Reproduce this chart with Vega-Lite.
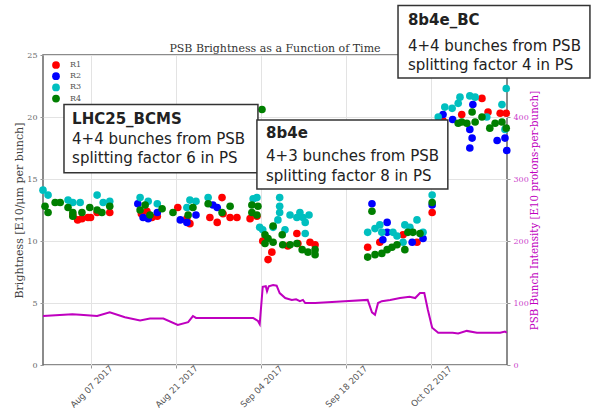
{
  "$schema": "https://vega.github.io/schema/vega-lite/v6.json",
  "width": 464,
  "height": 310,
  "autosize": "none",
  "padding": {"left": 43, "top": 55, "right": 97, "bottom": 43},
  "background": "white",
  "config": {
    "view": {"stroke": "#666", "strokeWidth": 1.5},
    "axis": {"domain": false}
  },
  "title": {"text": "PSB Brightness as a Function of Time", "font": "DejaVu Serif", "fontSize": 11, "fontWeight": "normal", "color": "#333", "offset": 0, "dy": 49},
  "datasets": {
    "pts": [
      {"d": "2017-08-04T00:00", "r": "R1", "b": 12.1},
      {"d": "2017-08-04T19:00", "r": "R1", "b": 11.7},
      {"d": "2017-08-05T12:00", "r": "R1", "b": 11.8},
      {"d": "2017-08-06T12:00", "r": "R1", "b": 11.9},
      {"d": "2017-08-06T22:00", "r": "R1", "b": 11.9},
      {"d": "2017-08-08T00:00", "r": "R1", "b": 12.3},
      {"d": "2017-08-10T02:00", "r": "R1", "b": 12.3},
      {"d": "2017-08-15T07:00", "r": "R1", "b": 12.2},
      {"d": "2017-08-16T05:00", "r": "R1", "b": 12.4},
      {"d": "2017-08-17T01:00", "r": "R1", "b": 11.9},
      {"d": "2017-08-17T22:00", "r": "R1", "b": 12.0},
      {"d": "2017-08-21T07:00", "r": "R1", "b": 12.7},
      {"d": "2017-08-22T19:00", "r": "R1", "b": 11.8},
      {"d": "2017-08-23T07:00", "r": "R1", "b": 11.4},
      {"d": "2017-08-26T14:00", "r": "R1", "b": 11.9},
      {"d": "2017-08-27T19:00", "r": "R1", "b": 11.5},
      {"d": "2017-08-28T14:00", "r": "R1", "b": 13.5},
      {"d": "2017-08-28T18:00", "r": "R1", "b": 12.2},
      {"d": "2017-08-29T22:00", "r": "R1", "b": 11.9},
      {"d": "2017-08-31T01:00", "r": "R1", "b": 11.9},
      {"d": "2017-09-02T05:00", "r": "R1", "b": 11.8},
      {"d": "2017-09-03T08:00", "r": "R1", "b": 12.0},
      {"d": "2017-09-04T07:00", "r": "R1", "b": 10.0},
      {"d": "2017-09-05T04:00", "r": "R1", "b": 8.5},
      {"d": "2017-09-05T19:00", "r": "R1", "b": 9.1},
      {"d": "2017-09-08T10:00", "r": "R1", "b": 9.6},
      {"d": "2017-09-09T22:00", "r": "R1", "b": 10.6},
      {"d": "2017-09-10T02:00", "r": "R1", "b": 9.8},
      {"d": "2017-09-12T02:00", "r": "R1", "b": 9.9},
      {"d": "2017-09-12T22:00", "r": "R1", "b": 9.7},
      {"d": "2017-09-21T14:00", "r": "R1", "b": 9.5},
      {"d": "2017-09-23T14:00", "r": "R1", "b": 9.9},
      {"d": "2017-09-27T10:00", "r": "R1", "b": 10.5},
      {"d": "2017-09-29T17:00", "r": "R1", "b": 9.9},
      {"d": "2017-10-02T05:00", "r": "R1", "b": 12.3},
      {"d": "2017-10-04T00:00", "r": "R1", "b": 19.7},
      {"d": "2017-10-07T02:00", "r": "R1", "b": 20.2},
      {"d": "2017-10-10T10:00", "r": "R1", "b": 21.5},
      {"d": "2017-10-11T10:00", "r": "R1", "b": 20.4},
      {"d": "2017-10-13T10:00", "r": "R1", "b": 20.3},
      {"d": "2017-10-14T10:00", "r": "R1", "b": 20.3},
      {"d": "2017-08-14T17:00", "r": "R2", "b": 13.0},
      {"d": "2017-08-15T14:00", "r": "R2", "b": 11.9},
      {"d": "2017-08-16T10:00", "r": "R2", "b": 11.8},
      {"d": "2017-08-17T22:00", "r": "R2", "b": 12.3},
      {"d": "2017-08-21T17:00", "r": "R2", "b": 11.7},
      {"d": "2017-08-22T19:00", "r": "R2", "b": 11.5},
      {"d": "2017-08-24T07:00", "r": "R2", "b": 12.1},
      {"d": "2017-08-27T02:00", "r": "R2", "b": 12.9},
      {"d": "2017-08-27T19:00", "r": "R2", "b": 12.7},
      {"d": "2017-09-22T07:00", "r": "R2", "b": 13.0},
      {"d": "2017-09-24T02:00", "r": "R2", "b": 10.1},
      {"d": "2017-09-24T19:00", "r": "R2", "b": 11.5},
      {"d": "2017-09-24T19:00", "r": "R2", "b": 10.7},
      {"d": "2017-09-28T22:00", "r": "R2", "b": 9.9},
      {"d": "2017-09-30T17:00", "r": "R2", "b": 10.2},
      {"d": "2017-10-02T05:00", "r": "R2", "b": 12.9},
      {"d": "2017-10-03T05:00", "r": "R2", "b": 18.5},
      {"d": "2017-10-04T00:00", "r": "R2", "b": 20.2},
      {"d": "2017-10-05T14:00", "r": "R2", "b": 19.8},
      {"d": "2017-10-08T10:00", "r": "R2", "b": 19.0},
      {"d": "2017-10-08T10:00", "r": "R2", "b": 17.5},
      {"d": "2017-10-08T19:00", "r": "R2", "b": 18.3},
      {"d": "2017-10-08T22:00", "r": "R2", "b": 21.0},
      {"d": "2017-10-12T22:00", "r": "R2", "b": 18.1},
      {"d": "2017-10-14T05:00", "r": "R2", "b": 18.3},
      {"d": "2017-10-14T12:00", "r": "R2", "b": 17.3},
      {"d": "2017-07-30T02:00", "r": "R3", "b": 14.1},
      {"d": "2017-07-30T22:00", "r": "R3", "b": 13.7},
      {"d": "2017-08-03T05:00", "r": "R3", "b": 13.3},
      {"d": "2017-08-04T00:00", "r": "R3", "b": 13.1},
      {"d": "2017-08-05T05:00", "r": "R3", "b": 13.1},
      {"d": "2017-08-08T00:00", "r": "R3", "b": 13.7},
      {"d": "2017-08-09T00:00", "r": "R3", "b": 13.1},
      {"d": "2017-08-10T02:00", "r": "R3", "b": 13.2},
      {"d": "2017-08-15T02:00", "r": "R3", "b": 13.5},
      {"d": "2017-08-16T10:00", "r": "R3", "b": 13.2},
      {"d": "2017-08-17T22:00", "r": "R3", "b": 13.0},
      {"d": "2017-08-22T19:00", "r": "R3", "b": 12.7},
      {"d": "2017-08-23T07:00", "r": "R3", "b": 13.3},
      {"d": "2017-08-24T07:00", "r": "R3", "b": 13.2},
      {"d": "2017-08-26T07:00", "r": "R3", "b": 13.5},
      {"d": "2017-09-02T17:00", "r": "R3", "b": 13.4},
      {"d": "2017-09-03T08:00", "r": "R3", "b": 13.5},
      {"d": "2017-09-03T19:00", "r": "R3", "b": 11.1},
      {"d": "2017-09-04T07:00", "r": "R3", "b": 10.9},
      {"d": "2017-09-06T00:00", "r": "R3", "b": 11.1},
      {"d": "2017-09-06T19:00", "r": "R3", "b": 11.7},
      {"d": "2017-09-07T02:00", "r": "R3", "b": 13.5},
      {"d": "2017-09-07T02:00", "r": "R3", "b": 12.8},
      {"d": "2017-09-07T02:00", "r": "R3", "b": 12.3},
      {"d": "2017-09-07T23:00", "r": "R3", "b": 10.9},
      {"d": "2017-09-08T19:00", "r": "R3", "b": 12.1},
      {"d": "2017-09-09T22:00", "r": "R3", "b": 11.9},
      {"d": "2017-09-10T10:00", "r": "R3", "b": 12.3},
      {"d": "2017-09-10T22:00", "r": "R3", "b": 11.9},
      {"d": "2017-09-11T07:00", "r": "R3", "b": 11.5},
      {"d": "2017-09-11T07:00", "r": "R3", "b": 10.6},
      {"d": "2017-09-11T22:00", "r": "R3", "b": 12.1},
      {"d": "2017-09-21T14:00", "r": "R3", "b": 10.7},
      {"d": "2017-09-22T19:00", "r": "R3", "b": 11.0},
      {"d": "2017-09-23T14:00", "r": "R3", "b": 11.3},
      {"d": "2017-09-23T22:00", "r": "R3", "b": 10.7},
      {"d": "2017-09-25T18:00", "r": "R3", "b": 10.7},
      {"d": "2017-09-26T10:00", "r": "R3", "b": 10.4},
      {"d": "2017-09-27T10:00", "r": "R3", "b": 9.9},
      {"d": "2017-09-27T17:00", "r": "R3", "b": 11.3},
      {"d": "2017-09-28T13:00", "r": "R3", "b": 11.1},
      {"d": "2017-09-29T17:00", "r": "R3", "b": 11.7},
      {"d": "2017-09-30T17:00", "r": "R3", "b": 10.7},
      {"d": "2017-10-02T05:00", "r": "R3", "b": 13.7},
      {"d": "2017-10-03T05:00", "r": "R3", "b": 20.0},
      {"d": "2017-10-04T07:00", "r": "R3", "b": 20.8},
      {"d": "2017-10-05T12:00", "r": "R3", "b": 20.7},
      {"d": "2017-10-06T12:00", "r": "R3", "b": 21.1},
      {"d": "2017-10-06T19:00", "r": "R3", "b": 21.6},
      {"d": "2017-10-08T10:00", "r": "R3", "b": 21.7},
      {"d": "2017-10-09T07:00", "r": "R3", "b": 21.6},
      {"d": "2017-10-11T05:00", "r": "R3", "b": 20.0},
      {"d": "2017-10-13T17:00", "r": "R3", "b": 21.0},
      {"d": "2017-10-14T05:00", "r": "R3", "b": 19.0},
      {"d": "2017-10-14T10:00", "r": "R3", "b": 22.3},
      {"d": "2017-07-30T10:00", "r": "R4", "b": 12.8},
      {"d": "2017-07-30T22:00", "r": "R4", "b": 12.3},
      {"d": "2017-08-01T02:00", "r": "R4", "b": 13.1},
      {"d": "2017-08-01T22:00", "r": "R4", "b": 13.1},
      {"d": "2017-08-03T05:00", "r": "R4", "b": 12.7},
      {"d": "2017-08-04T00:00", "r": "R4", "b": 12.3},
      {"d": "2017-08-04T00:00", "r": "R4", "b": 12.0},
      {"d": "2017-08-05T12:00", "r": "R4", "b": 12.3},
      {"d": "2017-08-06T19:00", "r": "R4", "b": 12.7},
      {"d": "2017-08-08T00:00", "r": "R4", "b": 12.5},
      {"d": "2017-08-08T19:00", "r": "R4", "b": 12.3},
      {"d": "2017-08-10T02:00", "r": "R4", "b": 12.8},
      {"d": "2017-08-15T02:00", "r": "R4", "b": 12.5},
      {"d": "2017-08-15T22:00", "r": "R4", "b": 12.9},
      {"d": "2017-08-16T17:00", "r": "R4", "b": 12.1},
      {"d": "2017-08-18T17:00", "r": "R4", "b": 12.6},
      {"d": "2017-08-20T12:00", "r": "R4", "b": 12.3},
      {"d": "2017-08-23T00:00", "r": "R4", "b": 12.1},
      {"d": "2017-08-23T19:00", "r": "R4", "b": 12.7},
      {"d": "2017-08-26T07:00", "r": "R4", "b": 13.0},
      {"d": "2017-08-28T14:00", "r": "R4", "b": 12.3},
      {"d": "2017-08-29T22:00", "r": "R4", "b": 12.8},
      {"d": "2017-09-02T12:00", "r": "R4", "b": 12.9},
      {"d": "2017-09-02T12:00", "r": "R4", "b": 12.3},
      {"d": "2017-09-03T08:00", "r": "R4", "b": 12.1},
      {"d": "2017-09-03T12:00", "r": "R4", "b": 12.8},
      {"d": "2017-09-04T04:00", "r": "R4", "b": 20.6},
      {"d": "2017-09-04T16:00", "r": "R4", "b": 10.5},
      {"d": "2017-09-04T16:00", "r": "R4", "b": 9.8},
      {"d": "2017-09-05T04:00", "r": "R4", "b": 10.2},
      {"d": "2017-09-06T00:00", "r": "R4", "b": 9.9},
      {"d": "2017-09-06T00:00", "r": "R4", "b": 11.2},
      {"d": "2017-09-07T12:00", "r": "R4", "b": 10.5},
      {"d": "2017-09-07T14:00", "r": "R4", "b": 9.7},
      {"d": "2017-09-08T19:00", "r": "R4", "b": 9.7},
      {"d": "2017-09-09T22:00", "r": "R4", "b": 9.8},
      {"d": "2017-09-10T19:00", "r": "R4", "b": 9.3},
      {"d": "2017-09-11T18:00", "r": "R4", "b": 9.1},
      {"d": "2017-09-12T22:00", "r": "R4", "b": 9.3},
      {"d": "2017-09-12T22:00", "r": "R4", "b": 8.9},
      {"d": "2017-09-21T14:00", "r": "R4", "b": 8.7},
      {"d": "2017-09-22T07:00", "r": "R4", "b": 12.4},
      {"d": "2017-09-22T19:00", "r": "R4", "b": 8.9},
      {"d": "2017-09-23T22:00", "r": "R4", "b": 9.0},
      {"d": "2017-09-24T19:00", "r": "R4", "b": 9.3},
      {"d": "2017-09-25T14:00", "r": "R4", "b": 9.5},
      {"d": "2017-09-26T10:00", "r": "R4", "b": 9.7},
      {"d": "2017-09-27T17:00", "r": "R4", "b": 9.3},
      {"d": "2017-09-28T05:00", "r": "R4", "b": 10.7},
      {"d": "2017-09-29T01:00", "r": "R4", "b": 10.7},
      {"d": "2017-09-30T05:00", "r": "R4", "b": 10.6},
      {"d": "2017-10-02T05:00", "r": "R4", "b": 13.1},
      {"d": "2017-10-06T12:00", "r": "R4", "b": 19.5},
      {"d": "2017-10-07T02:00", "r": "R4", "b": 19.6},
      {"d": "2017-10-07T22:00", "r": "R4", "b": 19.5},
      {"d": "2017-10-08T19:00", "r": "R4", "b": 20.4},
      {"d": "2017-10-09T07:00", "r": "R4", "b": 19.6},
      {"d": "2017-10-10T10:00", "r": "R4", "b": 20.0},
      {"d": "2017-10-11T17:00", "r": "R4", "b": 19.1},
      {"d": "2017-10-12T14:00", "r": "R4", "b": 19.5},
      {"d": "2017-10-13T17:00", "r": "R4", "b": 19.6},
      {"d": "2017-10-14T10:00", "r": "R4", "b": 19.1}
    ],
    "intensity": [
      {"d": "2017-07-30T02:00", "v": 79},
      {"d": "2017-08-03T22:00", "v": 82},
      {"d": "2017-08-05T05:00", "v": 81},
      {"d": "2017-08-08T00:00", "v": 79},
      {"d": "2017-08-10T02:00", "v": 85},
      {"d": "2017-08-12T14:00", "v": 77},
      {"d": "2017-08-15T02:00", "v": 72},
      {"d": "2017-08-16T17:00", "v": 75},
      {"d": "2017-08-18T22:00", "v": 75},
      {"d": "2017-08-21T07:00", "v": 64.5},
      {"d": "2017-08-23T00:00", "v": 69},
      {"d": "2017-08-23T19:00", "v": 79},
      {"d": "2017-08-24T07:00", "v": 76},
      {"d": "2017-09-02T17:00", "v": 76},
      {"d": "2017-09-03T12:00", "v": 71},
      {"d": "2017-09-03T19:00", "v": 66},
      {"d": "2017-09-04T07:00", "v": 126},
      {"d": "2017-09-04T19:00", "v": 127},
      {"d": "2017-09-05T00:00", "v": 119},
      {"d": "2017-09-05T07:00", "v": 127},
      {"d": "2017-09-06T00:00", "v": 129},
      {"d": "2017-09-06T14:00", "v": 128},
      {"d": "2017-09-07T02:00", "v": 116},
      {"d": "2017-09-08T00:00", "v": 108},
      {"d": "2017-09-09T02:00", "v": 105},
      {"d": "2017-09-09T19:00", "v": 106},
      {"d": "2017-09-10T10:00", "v": 103},
      {"d": "2017-09-10T22:00", "v": 105},
      {"d": "2017-09-11T07:00", "v": 100},
      {"d": "2017-09-12T22:00", "v": 100},
      {"d": "2017-09-17T19:00", "v": 103},
      {"d": "2017-09-21T14:00", "v": 105},
      {"d": "2017-09-22T07:00", "v": 85},
      {"d": "2017-09-22T19:00", "v": 81},
      {"d": "2017-09-23T07:00", "v": 100},
      {"d": "2017-09-23T22:00", "v": 103},
      {"d": "2017-09-25T07:00", "v": 105},
      {"d": "2017-09-26T22:00", "v": 108},
      {"d": "2017-09-28T12:00", "v": 110},
      {"d": "2017-09-29T10:00", "v": 108},
      {"d": "2017-09-30T05:00", "v": 116},
      {"d": "2017-09-30T22:00", "v": 116},
      {"d": "2017-10-01T12:00", "v": 89},
      {"d": "2017-10-02T05:00", "v": 60},
      {"d": "2017-10-03T05:00", "v": 52},
      {"d": "2017-10-05T14:00", "v": 52},
      {"d": "2017-10-06T12:00", "v": 51},
      {"d": "2017-10-07T22:00", "v": 55},
      {"d": "2017-10-09T14:00", "v": 52},
      {"d": "2017-10-11T17:00", "v": 52},
      {"d": "2017-10-13T10:00", "v": 52},
      {"d": "2017-10-14T05:00", "v": 54},
      {"d": "2017-10-14T12:00", "v": 52}
    ],
    "boxes": [
      {"x1": "2017-08-02T13:00", "x2": "2017-09-03T12:00", "y1": 15.5, "y2": 21.0},
      {"x1": "2017-09-03T08:00", "x2": "2017-10-04T19:00", "y1": 14.2, "y2": 19.76},
      {"x1": "2017-09-26T14:00", "x2": "2017-10-28T05:00", "y1": 23.15, "y2": 29.0}
    ],
    "notes": [
      {"d": "2017-08-03T21:00", "b": 19.84, "t": "LHC25_BCMS", "bold": true},
      {"d": "2017-08-03T21:00", "b": 18.2, "t": "4+4 bunches from PSB", "bold": false},
      {"d": "2017-08-03T21:00", "b": 16.7, "t": "splitting factor 6 in PS", "bold": false},
      {"d": "2017-09-04T20:00", "b": 18.7, "t": "8b4e", "bold": true},
      {"d": "2017-09-04T20:00", "b": 16.85, "t": "4+3 bunches from PSB", "bold": false},
      {"d": "2017-09-04T20:00", "b": 15.25, "t": "splitting factor 8 in PS", "bold": false},
      {"d": "2017-09-28T05:00", "b": 27.8, "t": "8b4e_BC", "bold": true},
      {"d": "2017-09-28T05:00", "b": 25.7, "t": "4+4 bunches from PSB", "bold": false},
      {"d": "2017-09-28T05:00", "b": 24.2, "t": "splitting factor 4 in PS", "bold": false}
    ]
  },
  "layer": [
    {
      "layer": [
        {
          "data": {"name": "pts"},
          "mark": {"type": "circle", "size": 58, "opacity": 1},
          "encoding": {
            "x": {
              "field": "d", "type": "temporal",
              "scale": {"domain": [{"year": 2017, "month": 7, "date": 30, "hours": 2}, {"year": 2017, "month": 10, "date": 14, "hours": 13}]},
              "axis": {
                "title": null,
                "values": [
                  {"year": 2017, "month": 8, "date": 7},
                  {"year": 2017, "month": 8, "date": 21},
                  {"year": 2017, "month": 9, "date": 4},
                  {"year": 2017, "month": 9, "date": 18},
                  {"year": 2017, "month": 10, "date": 2}
                ],
                "format": "%b %d %Y",
                "labelAngle": -45,
                "labelAlign": "center",
                "labelBaseline": "middle",
                "labelPadding": 18,
                "labelFont": "DejaVu Sans",
                "labelFontSize": 8.7,
                "labelColor": "#555",
                "labelOverlap": false,
                "labelFlush": false,
                "grid": true,
                "gridColor": "#e3e3e3",
                "tickColor": "#999",
                "tickSize": 3
              }
            },
            "y": {
              "field": "b", "type": "quantitative",
              "scale": {"domain": [0, 25], "nice": false, "zero": false},
              "axis": {
                "title": "Brightness [E10/μm per bunch]",
                "values": [0, 5, 10, 15, 20, 25],
                "labelFont": "DejaVu Serif",
                "labelFontSize": 8,
                "labelColor": "#666",
                "labelPadding": 3,
                "tickColor": "#999",
                "tickSize": 3,
                "titleFont": "DejaVu Serif",
                "titleFontSize": 11,
                "titleFontWeight": "normal",
                "titleColor": "#444",
                "titlePadding": 2,
                "grid": true,
                "gridColor": "#e3e3e3"
              }
            },
            "color": {
              "field": "r", "type": "nominal",
              "scale": {"domain": ["R1", "R2", "R3", "R4"], "range": ["#ff0000", "#0000ff", "#00bfbf", "#007f00"]},
              "legend": {
                "orient": "none", "legendX": 9, "legendY": 6,
                "title": null,
                "labelFont": "DejaVu Serif", "labelFontSize": 8, "labelColor": "#555",
                "symbolType": "circle", "symbolSize": 60, "symbolStrokeWidth": 0,
                "rowPadding": 3.2, "labelOffset": 10
              }
            }
          }
        },
        {
          "data": {"name": "boxes"},
          "mark": {"type": "rect", "fill": "white", "stroke": "#333", "strokeWidth": 1.5, "clip": false},
          "encoding": {
            "x": {"field": "x1", "type": "temporal"},
            "x2": {"field": "x2"},
            "y": {"field": "y1", "type": "quantitative"},
            "y2": {"field": "y2"}
          }
        },
        {
          "data": {"name": "notes"},
          "transform": [{"filter": "datum.bold"}],
          "mark": {"type": "text", "align": "left", "baseline": "middle", "font": "DejaVu Sans", "fontSize": 15, "fontWeight": "bold", "color": "#222"},
          "encoding": {
            "x": {"field": "d", "type": "temporal"},
            "y": {"field": "b", "type": "quantitative"},
            "text": {"field": "t"}
          }
        },
        {
          "data": {"name": "notes"},
          "transform": [{"filter": "!datum.bold"}],
          "mark": {"type": "text", "align": "left", "baseline": "middle", "font": "DejaVu Sans", "fontSize": 15, "color": "#222"},
          "encoding": {
            "x": {"field": "d", "type": "temporal"},
            "y": {"field": "b", "type": "quantitative"},
            "text": {"field": "t"}
          }
        }
      ]
    },
    {
      "data": {"name": "intensity"},
      "mark": {"type": "line", "color": "#bf00bf", "strokeWidth": 2},
      "encoding": {
        "x": {"field": "d", "type": "temporal"},
        "y": {
          "field": "v", "type": "quantitative",
          "scale": {"domain": [0, 500], "nice": false},
          "axis": {
            "orient": "right",
            "title": "PSB Bunch Intensity [E10 protons-per-bunch]",
            "values": [0, 100, 200, 300, 400, 500],
            "grid": false,
            "labelFont": "DejaVu Serif",
            "labelFontSize": 8,
            "labelColor": "#cc44cc",
            "labelPadding": 3,
            "tickColor": "#999",
            "tickSize": 3,
            "titleFont": "DejaVu Serif",
            "titleFontSize": 10.3,
            "titleFontWeight": "normal",
            "titleColor": "#c000c0",
            "titleAngle": 270,
            "titlePadding": 11
          }
        }
      }
    }
  ],
  "resolve": {"scale": {"y": "independent"}}
}
